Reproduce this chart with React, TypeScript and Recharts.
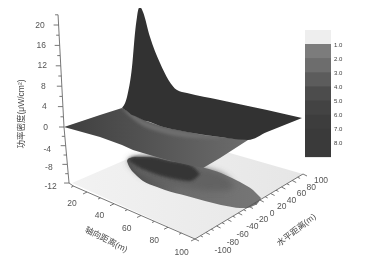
import React from 'react';
import { ComposedChart, XAxis, YAxis, Area, Line, Scatter, ReferenceArea } from 'recharts';

// Tick values of the three axes and the colour bar
const powerTicks = [-12, -10, -8, -6, -4, -2, 0, 2, 4, 6, 8, 10, 12, 14, 16, 18, 20, 22];
const powerLabels = [-12, -8, -4, 0, 4, 8, 12, 16, 20];
const axialTicks = [10, 20, 30, 40, 50, 60, 70, 80, 90, 100];
const axialLabels = [20, 40, 60, 80, 100];
const lateralTicks = [-100, -90, -80, -70, -60, -50, -40, -30, -20, -10, 0, 10, 20, 30, 40, 50, 60, 70, 80, 90, 100];
const lateralLabels = [-100, -80, -60, -40, -20, 0, 20, 40, 60, 80, 100];
const barLevels = [1, 2, 3, 4, 5, 6, 7, 8];
const barShades = ['#7c7c7c', '#6d6d6d', '#5c5c5c', '#4c4c4c', '#434343', '#3d3d3d', '#3a3a3a', '#3a3a3a'];

// Surfaces, in the projected plane of the 3D view
const floorX = [72, 176, 195, 303];
const floorTop = [183, 138, 143, 174];
const floorBottom = [183, 230, 239, 174];

const footX = [127, 128, 130, 135, 143, 157, 165, 187, 205, 221, 232, 240, 247, 253, 258, 261];
const footTop = [161, 159, 158, 157, 157, 158, 160, 164, 168, 173, 178, 182, 186, 190, 195, 198];
const footBottom = [161, 164, 168, 174, 181, 187, 190, 196, 201, 205, 207, 208, 208, 206, 203, 198];

const footMidX = [128, 135, 150, 170, 190, 210, 225, 235];
const footMidTop = [161, 157, 157, 161, 165, 170, 176, 186];
const footMidBottom = [161, 170, 178, 184, 188, 191, 191, 186];

const footCoreX = [128, 135, 150, 170, 190, 200];
const footCoreTop = [160, 157, 157, 161, 165, 174];
const footCoreBottom = [160, 165, 172, 178, 181, 174];

const frontX = [64, 100, 122, 133, 143, 160, 167, 193, 203, 220, 248];
const frontTop = [127, 115, 108, 114, 120, 126, 128, 133, 135, 137, 140];
const frontBottom = [127, 137, 145, 150, 153, 158, 160, 166, 168, 158, 140];

const ridgeX = [122, 133, 143, 160, 167, 193, 220];
const ridgeTop = [108, 114, 120, 126, 128, 133, 137];
const ridgeBottom = [109, 119, 126, 132, 134, 138, 139];

const backX = [122, 127, 132, 135, 137, 139, 141, 143, 150, 160, 177, 187, 220, 248, 267, 302];
const backTop = [108, 97, 67, 33, 17, 8, 8, 12, 37, 63, 90, 93, 100, 106, 110, 118];
const backBottom = [108, 111, 115, 116, 117, 118, 119, 120, 122, 126, 130, 132, 137, 140, 132, 118];

const band = (x: number[], top: number[], bottom: number[]) =>
  x.map((v, i) => ({ x: v, r: [top[i], bottom[i]] }));

// View projection of each axis onto the picture plane
const powerPos = (z: number) =>
  z >= 0 ? { x: 64 - z * 0.27, y: 127 - z * 5.1 } : { x: 64 - z * 0.42, y: 127 - z * 4.67 };
const axialPos = (a: number) => ({ x: 87 + (a - 20) * 1.35, y: 192 + (a - 20) * 0.5875 });
const lateralPos = (h: number) => ({ x: 249 + h * 0.54, y: 206.5 - h * 0.325 });

const axisPath = (
  ticks: number[],
  pos: (v: number) => { x: number; y: number },
  isMajor: (v: number) => boolean,
  major: [number, number],
  minor: [number, number],
) => {
  const rows: { x: number; y: number | null }[] = [];
  ticks.forEach((t) => rows.push(pos(t)));
  ticks.forEach((t) => {
    const p = pos(t);
    const d = isMajor(t) ? major : minor;
    rows.push({ x: p.x, y: null });
    rows.push(p);
    rows.push({ x: p.x + d[0], y: p.y + d[1] });
  });
  return rows;
};

const powerAxis = axisPath(powerTicks, powerPos, (v) => v % 4 === 0, [-5, 0], [-3, 0]);
const axialAxis = [
  { x: 69, y: 183 },
  ...axisPath(axialTicks, axialPos, (v) => v % 20 === 0, [-4, 2], [-2.5, 1.2]),
];
const lateralAxis = axisPath(lateralTicks, lateralPos, (v) => v % 20 === 0, [4, 2], [2.5, 1.2]);

const powerText = powerLabels.map((v) => ({
  x: powerPos(v).x - 18.5,
  y: powerPos(v).y + (v >= 0 ? 2.5 : 6),
  t: String(v),
}));
const axialText = axialLabels.map((v) => ({
  x: axialPos(v).x - 15 + (v - 20) * 0.02,
  y: axialPos(v).y + 14 + (v - 20) * 0.03,
  t: String(v),
}));
const lateralText = lateralLabels.map((v) => ({
  x: lateralPos(v).x + 23 - v * 0.05,
  y: lateralPos(v).y + 9 + Math.max(0, -40 - v) * 0.09,
  t: String(v),
}));
const barY = (level: number) => 44 + (level - 1) * 14.14;
const barText = barLevels.map((v) => ({ x: 334, y: barY(v) + 2.5, t: v.toFixed(1) }));

const FONT = '"Liberation Sans", "Noto Sans CJK SC", sans-serif';

const Tick = (size: number, anchor: 'middle' | 'start', fill = '#555555') => (p: any) => (
  <text x={p.cx} y={p.cy} fontSize={size} fontFamily={FONT} fill={fill} textAnchor={anchor}>
    {p.payload.t}
  </text>
);

const titles = [
  { x: 24, y: 114, t: '功率密度(μW/cm²)', rot: -90 },
  { x: 105, y: 242, t: '轴向距离(m)', rot: 27 },
  { x: 298, y: 232, t: '水平距离(m)', rot: -38 },
];
const Title = (p: any) => (
  <text
    x={p.cx}
    y={p.cy}
    fontSize={8.5}
    fontFamily={FONT}
    fill="#4a4a4a"
    textAnchor="middle"
    transform={`rotate(${p.payload.rot} ${p.cx} ${p.cy})`}
  >
    {p.payload.t}
  </text>
);

const fillArea = (key: string, rows: any[], fill: string, curve: any = 'linear', blur?: string) => (
  <Area
    key={key}
    data={rows}
    dataKey="r"
    type={curve}
    fill={fill}
    fillOpacity={1}
    stroke="none"
    dot={false}
    activeDot={false}
    isAnimationActive={false}
    {...(blur ? { filter: `url(#${blur})` } : {})}
  />
);

const axisLine = (key: string, rows: any[]) => (
  <Line
    key={key}
    data={rows}
    dataKey="y"
    type="linear"
    stroke="#555555"
    strokeWidth={0.8}
    dot={false}
    activeDot={false}
    connectNulls={false}
    isAnimationActive={false}
  />
);

export default function App() {
  return (
    <div style={{ position: 'absolute', left: 0, top: 0, width: 376, height: 263, filter: 'blur(0.55px)' }}>
      <ComposedChart width={376} height={263} margin={{ top: 0, right: 0, bottom: 0, left: 0 }}>
        <defs>
          <linearGradient id="frontShade" x1="0" y1="0" x2="1" y2="0">
            <stop offset="0" stopColor="#3f3f3f" />
            <stop offset="0.45" stopColor="#535353" />
            <stop offset="1" stopColor="#6c6c6c" />
          </linearGradient>
          <linearGradient id="floorShade" x1="0" y1="0" x2="1" y2="0">
            <stop offset="0" stopColor="#f2f2f2" />
            <stop offset="1" stopColor="#e6e6e6" />
          </linearGradient>
          <linearGradient id="footShade" x1="0" y1="0" x2="1" y2="0">
            <stop offset="0" stopColor="#4a4a4a" />
            <stop offset="0.4" stopColor="#6c6c6c" />
            <stop offset="1" stopColor="#767676" />
          </linearGradient>
          <filter id="softWide" x="-30%" y="-60%" width="160%" height="220%">
            <feGaussianBlur stdDeviation="3" />
          </filter>
          <filter id="softNarrow" x="-20%" y="-60%" width="140%" height="220%">
            <feGaussianBlur stdDeviation="1.5" />
          </filter>
        </defs>
        <XAxis type="number" dataKey="x" domain={[0, 376]} hide />
        <YAxis type="number" dataKey="y" domain={[0, 263]} reversed hide />

        {fillArea('floor', band(floorX, floorTop, floorBottom), 'url(#floorShade)')}
        {fillArea('foot', band(footX, footTop, footBottom), 'url(#footShade)', 'monotoneX')}
        {fillArea('footMid', band(footMidX, footMidTop, footMidBottom), '#626262', 'monotoneX', 'softWide')}
        {fillArea('footCore', band(footCoreX, footCoreTop, footCoreBottom), '#343434', 'monotoneX', 'softNarrow')}
        {fillArea('front', band(frontX, frontTop, frontBottom), 'url(#frontShade)')}
        {fillArea('ridge', band(ridgeX, ridgeTop, ridgeBottom), '#6e6e6e', 'monotoneX', 'softNarrow')}
        {fillArea('back', band(backX, backTop, backBottom), '#323232', 'monotoneX')}

        {axisLine('powerAxis', powerAxis)}
        {axisLine('axialAxis', axialAxis)}
        {axisLine('lateralAxis', lateralAxis)}

        <ReferenceArea x1={305} x2={331} y1={30} y2={44} fill="#eeeeee" fillOpacity={1} stroke="none" />
        {barLevels.map((v, i) => (
          <ReferenceArea
            key={v}
            x1={305}
            x2={331}
            y1={barY(v)}
            y2={barY(v + 1) + (i < 7 ? 1 : 0)}
            fill={barShades[i]}
            fillOpacity={1}
            stroke="none"
          />
        ))}

        <Scatter data={powerText} shape={Tick(8.5, 'middle')} isAnimationActive={false} />
        <Scatter data={axialText} shape={Tick(8.5, 'middle')} isAnimationActive={false} />
        <Scatter data={lateralText} shape={Tick(8.5, 'middle')} isAnimationActive={false} />
        <Scatter data={barText} shape={Tick(6, 'start', '#3c3c3c')} isAnimationActive={false} />
        <Scatter data={titles} shape={Title} isAnimationActive={false} />
      </ComposedChart>
    </div>
  );
}
